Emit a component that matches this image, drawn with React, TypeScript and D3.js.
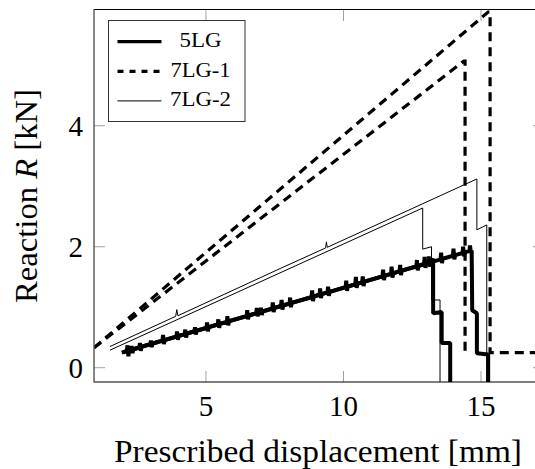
import React from "react";
import * as d3 from "d3";

type Pt = [number, number];

// ---- data ----
const seriesNames = ["5LG", "7LG-1", "7LG-2"];

const xTicks = [5, 10, 15];
const yTicks = [0, 2, 4];

// 5LG, two noisy runs
const lg5RunA: Pt[] = [
  [1.94, 0.25],
  [2.12, 0.276], [2.15, 0.37], [2.18, 0.19], [2.21, 0.285],
  [2.28, 0.295], [2.3, 0.36], [2.33, 0.24], [2.36, 0.305],
  [2.98, 0.389], [3.0, 0.45], [3.03, 0.34], [3.06, 0.4],
  [3.42, 0.447], [3.44, 0.54], [3.47, 0.39], [3.5, 0.457],
  [3.93, 0.515], [3.95, 0.6], [3.98, 0.46], [4.01, 0.525],
  [4.58, 0.6], [4.6, 0.67], [4.63, 0.55], [4.66, 0.61],
  [5.02, 0.66], [5.04, 0.75], [5.07, 0.6], [5.1, 0.67],
  [5.76, 0.758], [5.78, 0.85], [5.81, 0.7], [5.84, 0.77],
  [6.48, 0.854], [6.5, 0.95], [6.53, 0.8], [6.56, 0.865],
  [6.98, 0.92], [7.0, 0.99], [7.03, 0.87], [7.06, 0.93],
  [7.41, 0.977], [7.43, 1.08], [7.46, 0.92], [7.49, 0.99],
  [8.04, 1.061], [8.06, 1.16], [8.09, 1.0], [8.12, 1.072],
  [8.84, 1.167], [8.86, 1.28], [8.89, 1.1], [8.92, 1.178],
  [9.42, 1.245], [9.44, 1.34], [9.47, 1.19], [9.5, 1.255],
  [10.08, 1.332], [10.1, 1.44], [10.13, 1.27], [10.16, 1.343],
  [10.68, 1.412], [10.7, 1.51], [10.73, 1.35], [10.76, 1.423],
  [11.42, 1.51], [11.44, 1.62], [11.47, 1.45], [11.5, 1.521],
  [12.04, 1.593], [12.06, 1.7], [12.09, 1.53], [12.12, 1.604],
  [12.65, 1.674], [12.67, 1.78], [12.7, 1.61], [12.73, 1.685],
  [13.08, 1.731], [13.1, 1.84], [13.13, 1.67], [13.16, 1.742],
  [13.26, 1.8], [13.26, 0.9], [13.57, 0.92], [13.57, 0.41],
  [13.88, 0.41], [13.88, -0.3],
];
const lg5RunB: Pt[] = [
  [2.0, 0.258],
  [2.58, 0.335], [2.6, 0.41], [2.63, 0.28], [2.66, 0.346],
  [4.23, 0.555], [4.25, 0.63], [4.28, 0.5], [4.31, 0.565],
  [5.43, 0.714], [5.45, 0.8], [5.48, 0.66], [5.51, 0.725],
  [6.83, 0.9], [6.85, 0.99], [6.88, 0.85], [6.91, 0.911],
  [7.73, 1.02], [7.75, 1.12], [7.78, 0.96], [7.81, 1.031],
  [9.13, 1.206], [9.15, 1.31], [9.18, 1.15], [9.21, 1.217],
  [10.43, 1.379], [10.45, 1.5], [10.48, 1.32], [10.51, 1.39],
  [11.73, 1.552], [11.75, 1.67], [11.78, 1.49], [11.81, 1.563],
  [12.93, 1.711], [12.95, 1.83], [12.98, 1.65], [13.01, 1.722],
  [13.53, 1.791], [13.55, 1.9], [13.58, 1.73], [13.61, 1.802],
  [13.98, 1.851], [14.0, 1.97], [14.03, 1.79], [14.06, 1.862],
  [14.33, 1.897], [14.35, 2.0], [14.38, 1.84], [14.41, 1.908],
  [14.58, 1.931], [14.6, 2.02], [14.63, 1.9], [14.66, 1.94],
  [14.68, 0.95], [14.85, 0.9], [14.85, 0.24], [15.26, 0.22], [15.26, -0.3],
];

// 7LG-1, two runs (dashed)
const lg71RunA: Pt[] = [
  [0.93, 0.33], [15.26, 5.88], [15.33, 5.88], [15.33, 0.25], [17.3, 0.25],
];
const lg71RunB: Pt[] = [
  [0.93, 0.33], [14.38, 5.07], [14.42, 5.07], [14.42, 0.24], [14.55, 0.24],
];

// 7LG-2, two runs (thin)
const lg72RunA: Pt[] = [
  [1.51, 0.35], [3.9, 0.85], [3.94, 0.96], [3.98, 0.86], [7.7, 1.64], [9.35, 1.98],
  [9.38, 2.08], [9.41, 1.99], [14.85, 3.12], [14.85, 2.28], [15.21, 2.36], [15.21, -0.3],
];
const lg72RunB: Pt[] = [
  [1.51, 0.29], [12.88, 2.64], [12.88, 1.96], [13.2, 2.0], [13.2, 1.12], [13.51, 1.12],
  [13.51, -0.3],
];

// ---- layout ----
const W = 535;
const H = 469;
const PL = 94;
const PR = 544;
const PT = 10;
const PB = 382;
const X_MIN = 0.93;
const X_MAX = 17.29;
const Y_MIN = -0.236;
const Y_MAX = 5.913;
const FONT = "'Liberation Serif', 'DejaVu Serif', serif";

const styles = [
  { width: 4, legendWidth: 3.2, dash: "", legendDash: "", join: "bevel" },
  { width: 3.2, legendWidth: 3.2, dash: "9,6", legendDash: "6,6", join: "miter" },
  { width: 1, legendWidth: 1, dash: "", legendDash: "", join: "miter" },
];
const runsBySeries: Pt[][][] = [
  [lg5RunA, lg5RunB],
  [lg71RunA, lg71RunB],
  [lg72RunA, lg72RunB],
];
const legendTextLen = [42, 60, 61];

export default function App() {
  const x = d3.scaleLinear().domain([X_MIN, X_MAX]).range([PL, PR]);
  const y = d3.scaleLinear().domain([Y_MIN, Y_MAX]).range([PB, PT]);
  const line = d3
    .line<Pt>()
    .x((d) => x(d[0]))
    .y((d) => y(d[1]));

  const tickLen = 11;
  const tickColor = "#a0a0a0";

  return (
    <svg
      width={W}
      height={H}
      viewBox={`0 0 ${W} ${H}`}
      style={{ position: "fixed", left: 0, top: 0, background: "#fff" }}
      fontFamily={FONT}
    >
      <defs>
        <clipPath id="plotClip">
          <rect x={PL} y={PT} width={PR - PL} height={PB - PT} />
        </clipPath>
      </defs>
      <rect x={0} y={0} width={W} height={H} fill="#fff" />

      {/* ticks */}
      <g stroke={tickColor} strokeWidth={1}>
        {xTicks.map((t) => (
          <g key={"xt" + t}>
            <line x1={x(t)} x2={x(t)} y1={PB} y2={PB - tickLen} />
            <line x1={x(t)} x2={x(t)} y1={PT} y2={PT + tickLen} />
          </g>
        ))}
        {yTicks.map((t) => (
          <g key={"yt" + t}>
            <line x1={PL} x2={PL + tickLen} y1={y(t)} y2={y(t)} />
            <line x1={PR} x2={PR - tickLen} y1={y(t)} y2={y(t)} />
          </g>
        ))}
      </g>

      {/* data */}
      <g clipPath="url(#plotClip)" fill="none" stroke="#000">
        {runsBySeries.map((runs, si) =>
          runs.map((r, ri) => (
            <path
              key={si + "-" + ri}
              d={line(r) || ""}
              strokeWidth={styles[si].width}
              strokeLinejoin={styles[si].join as any}
              strokeDasharray={styles[si].dash || undefined}
            />
          ))
        )}
      </g>

      {/* frame */}
      <g fill="none">
        <line x1={PL} x2={PR} y1={PT - 0.5} y2={PT - 0.5} stroke="#000" strokeWidth={1.2} />
        <line x1={PL} x2={PR} y1={PB} y2={PB} stroke="#000" strokeWidth={1.2} />
        <line x1={PL} x2={PL} y1={PT - 1} y2={PB + 0.5} stroke="#555" strokeWidth={1.4} />
        <line x1={PR} x2={PR} y1={PT} y2={PB} stroke="#000" strokeWidth={1} />
      </g>

      {/* tick labels */}
      <g fontSize={29} fill="#000">
        {xTicks.map((t) => (
          <text key={"xl" + t} x={x(t)} y={416} textAnchor="middle">
            {t}
          </text>
        ))}
        {yTicks.map((t) => (
          <text key={"yl" + t} x={83} y={y(t) + 10} textAnchor="end">
            {t}
          </text>
        ))}
      </g>

      {/* axis labels */}
      <text
        x={318}
        y={462}
        fontSize={31}
        textAnchor="middle"
        textLength={408}
        lengthAdjust="spacingAndGlyphs"
      >
        Prescribed displacement [mm]
      </text>
      <text
        transform={`translate(37,196) rotate(-90)`}
        fontSize={31}
        textAnchor="middle"
        textLength={214}
        lengthAdjust="spacingAndGlyphs"
      >
        Reaction <tspan fontStyle="italic">R</tspan> [kN]
      </text>

      {/* legend */}
      <g>
        <rect x={108.5} y={20.5} width={136.5} height={101} fill="#fff" stroke="#333" strokeWidth={1} />
        {seriesNames.map((name, i) => {
          const ly = 41.7 + i * 29.6;
          return (
            <g key={name}>
              <line
                x1={117.5}
                x2={161.5}
                y1={ly}
                y2={ly}
                stroke="#000"
                strokeWidth={styles[i].legendWidth}
                strokeDasharray={styles[i].legendDash || undefined}
              />
              <text
                x={200.5}
                y={ly + 5.5}
                fontSize={20}
                textAnchor="middle"
                textLength={legendTextLen[i]}
                lengthAdjust="spacingAndGlyphs"
              >
                {name}
              </text>
            </g>
          );
        })}
      </g>
    </svg>
  );
}
